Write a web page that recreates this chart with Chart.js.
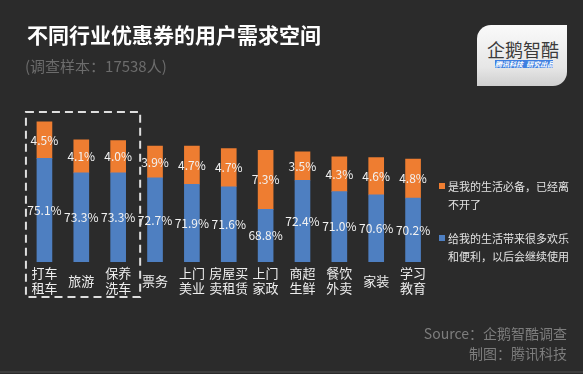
<!DOCTYPE html>
<html lang="zh-CN">
<head>
<meta charset="utf-8">
<title>不同行业优惠券的用户需求空间</title>
<script src="https://cdn.jsdelivr.net/npm/chart.js@4.4.1/dist/chart.umd.min.js"></script>
<style>
    html, body {
        margin: 0;
        padding: 0;
        background: #2b2b2b;
    }
    #page {
        position: relative;
        width: 583px;
        height: 374px;
        overflow: hidden;
        background: #2b2b2b;
        font-family: "Noto Sans CJK SC", "Noto Sans", sans-serif;
    }
    #chartBox {
        position: absolute;
        left: 0;
        top: 0;
        width: 583px;
        height: 374px;
    }
    .title {
        position: absolute;
        left: 27px;
        top: 22px;
        font-size: 21px;
        line-height: 24px;
        font-weight: bold;
        color: #ffffff;
        white-space: nowrap;
    }
    .subtitle {
        position: absolute;
        left: 25px;
        top: 56px;
        font-size: 15px;
        line-height: 20px;
        color: #6c6c6c;
        white-space: nowrap;
    }
    .logo {
        position: absolute;
        left: 477px;
        top: 25px;
        width: 90px;
        height: 61px;
        border-radius: 14px 0 14px 0;
        background: linear-gradient(#fafafa, #e6e6e6 70%, #cfcfcf);
    }
    .logo .name {
        position: absolute;
        left: 8px;
        top: 14px;
        width: 76px;
        text-align: center;
        font-size: 18px;
        line-height: 20px;
        color: #3b3b3b;
    }
    .logo .bar {
        position: absolute;
        left: 18px;
        top: 35px;
        width: 58px;
        height: 8px;
        background: #3f7fe0;
        color: #ffffff;
        font-size: 7px;
        line-height: 8px;
        font-style: italic;
        font-weight: bold;
        text-align: center;
        white-space: nowrap;
        overflow: hidden;
    }
    .legend {
        position: absolute;
        left: 439px;
        font-size: 11px;
        line-height: 18px;
        color: #e2e2e2;
    }
    .legend .swatch {
        position: absolute;
        left: 0;
        top: 6px;
        width: 6px;
        height: 6px;
    }
    .legend .text {
        margin-left: 9px;
        white-space: nowrap;
    }
    .source {
        position: absolute;
        right: 16px;
        top: 323px;
        font-size: 14px;
        line-height: 20px;
        color: #7d7d7d;
        text-align: right;
        white-space: nowrap;
    }
    .bottomLine {
        position: absolute;
        left: 0;
        top: 371px;
        width: 583px;
        height: 2px;
        background: #3d3d3d;
    }
</style>
</head>
<body>
<div id="page">
    <div id="chartBox"><canvas id="couponChart"></canvas></div>

    <div class="title">不同行业优惠券的用户需求空间</div>
    <div class="subtitle">(调查样本：17538人)</div>

    <div class="logo">
        <div class="name">企鹅智酷</div>
        <div class="bar">腾讯科技&nbsp;&nbsp;研究出品</div>
    </div>

    <div id="legendBox"></div>

    <div class="source">Source：企鹅智酷调查<br>制图：腾讯科技</div>
    <div class="bottomLine"></div>
</div>

<script>
// Kategori industri (label sumbu x, dua baris)
const categories = [
    ['打车', '租车'], '旅游', ['保养', '洗车'], '票务', ['上门', '美业'],
    ['房屋买', '卖租赁'], ['上门', '家政'], ['商超', '生鲜'], ['餐饮', '外卖'],
    '家装', ['学习', '教育']
];

// Nilai seri (%)
const enjoyValues = [75.1, 73.3, 73.3, 72.7, 71.9, 71.6, 68.8, 72.4, 71.0, 70.6, 70.2];
const essentialValues = [4.5, 4.1, 4.0, 3.9, 4.7, 4.7, 7.3, 3.5, 4.3, 4.6, 4.8];

// Nama seri untuk legenda
const seriesNames = [
    ['给我的生活带来很多欢乐', '和便利，以后会继续使用'],
    ['是我的生活必备，已经离', '不开了']
];

const COLORS = {
    blue: '#4e7fc1',
    orange: '#ee7d31',
    label: '#f2f2f2',
    axis: '#eeeeee',
    dash: '#dedede'
};

const FONT = '"Noto Sans CJK SC", "Noto Sans", sans-serif';

// Menulis nilai persen di tengah setiap segmen batang (yang terlihat)
const valueLabelPlugin = {
    id: 'valueLabels',
    afterDatasetsDraw(chart) {
        const ctx = chart.ctx;
        const area = chart.chartArea;
        ctx.save();
        ctx.fillStyle = COLORS.label;
        ctx.font = '12px ' + FONT;
        ctx.textAlign = 'center';
        ctx.textBaseline = 'middle';
        chart.data.datasets.forEach((ds, i) => {
            const meta = chart.getDatasetMeta(i);
            meta.data.forEach((bar, j) => {
                const base = Math.min(bar.base, area.bottom);
                const midY = (bar.y + base) / 2;
                ctx.fillText(ds.data[j].toFixed(1) + '%', bar.x, midY);
            });
        });
        ctx.restore();
    }
};

// Kotak garis putus-putus di sekitar tiga kategori pertama
const dashedBoxPlugin = {
    id: 'dashedBox',
    afterDraw(chart) {
        const xScale = chart.scales.x;
        const ctx = chart.ctx;
        const left = xScale.getPixelForValue(0) - 18.5;
        const right = xScale.getPixelForValue(2) + 22;
        const top = chart.chartArea.top + 12;
        const bottom = chart.chartArea.bottom + 35;
        ctx.save();
        ctx.strokeStyle = COLORS.dash;
        ctx.lineWidth = 2;
        ctx.setLineDash([8, 5]);
        ctx.strokeRect(left, top, right - left, bottom - top);
        ctx.restore();
    }
};

const chart = new Chart(document.getElementById('couponChart'), {
    type: 'bar',
    data: {
        labels: categories,
        datasets: [
            {
                label: seriesNames[0].join(''),
                data: enjoyValues,
                backgroundColor: COLORS.blue,
                barThickness: 15
            },
            {
                label: seriesNames[1].join(''),
                data: essentialValues,
                backgroundColor: COLORS.orange,
                barThickness: 15
            }
        ]
    },
    options: {
        responsive: true,
        maintainAspectRatio: false,
        animation: false,
        layout: {
            padding: { left: 26, right: 151.5, top: 100, bottom: 60 }
        },
        plugins: {
            legend: { display: false },
            tooltip: { enabled: false }
        },
        scales: {
            x: {
                stacked: true,
                grid: { display: false, drawTicks: false },
                border: { display: false },
                ticks: {
                    color: COLORS.axis,
                    font: { family: FONT, size: 13, lineHeight: 1.15 },
                    padding: 11,
                    crossAlign: 'center',
                    maxRotation: 0,
                    autoSkip: false
                }
            },
            y: {
                stacked: true,
                display: false,
                min: 62.3,
                max: 82.3
            }
        }
    },
    plugins: [valueLabelPlugin, dashedBoxPlugin]
});

// Legenda HTML (teks dua baris)
function buildLegend() {
    const box = document.getElementById('legendBox');
    const items = [
        { name: seriesNames[1], color: COLORS.orange, top: 177 },
        { name: seriesNames[0], color: COLORS.blue, top: 229 }
    ];
    items.forEach(item => {
        const el = document.createElement('div');
        el.className = 'legend';
        el.style.top = item.top + 'px';
        el.innerHTML = `
            <div class="swatch" style="background:${item.color}"></div>
            <div class="text">${item.name.join('<br>')}</div>
        `;
        box.appendChild(el);
    });
}

buildLegend();
</script>
</body>
</html>
